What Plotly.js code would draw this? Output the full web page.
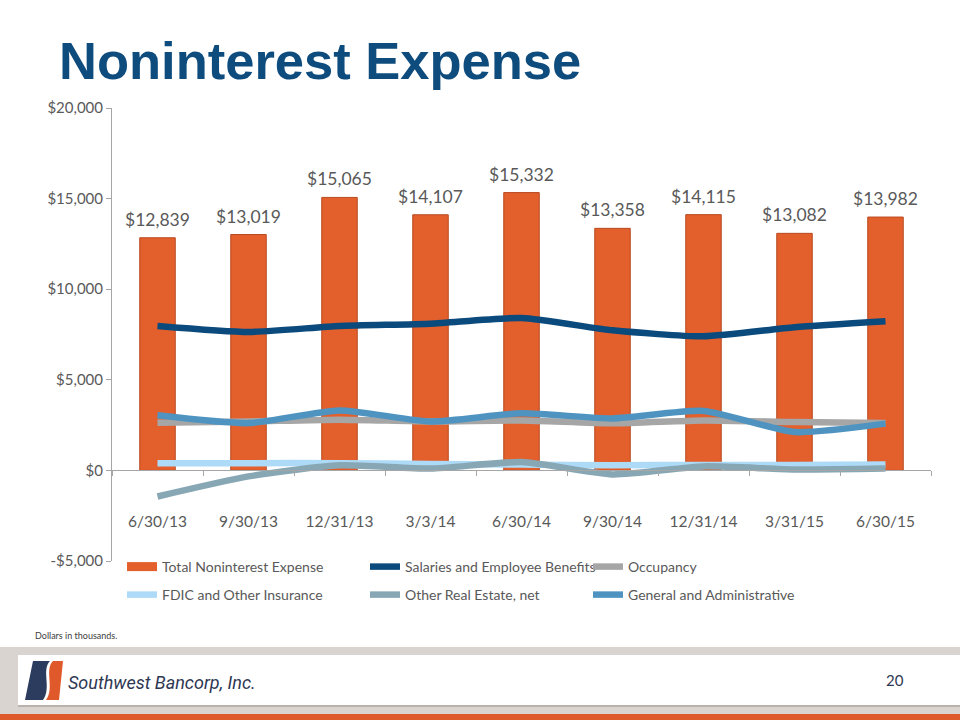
<!DOCTYPE html>
<html>
<head>
<meta charset="utf-8">
<script src="https://cdn.plot.ly/plotly-3.0.1.min.js"></script>
<style>html,body{margin:0;padding:0;background:#fff;}#chart{width:960px;height:720px;}</style>
</head>
<body>
<div id="chart"></div>
<script>
const categories = ["6/30/13","9/30/13","12/31/13","3/3/14","6/30/14","9/30/14","12/31/14","3/31/15","6/30/15"];
const totalExpense = [12839,13019,15065,14107,15332,13358,14115,13082,13982];
const salaries = [7970,7640,7970,8100,8410,7730,7400,7900,8230];
const occupancy = [2630,2700,2800,2700,2760,2600,2760,2670,2610];
const fdic = [400,400,400,350,320,290,300,300,320];
const otherRealEstate = [-1440,-330,280,100,460,-220,220,50,100];
const generalAdmin = [3040,2610,3310,2700,3150,2870,3280,2120,2580];
const yTickVals = [-5000,0,5000,10000,15000,20000];
const yTickText = ["-$5,000","$0","$5,000","$10,000","$15,000","$20,000"];

// pixel -> paper helpers (plot area: x 112..931, y 108..561)
const L=112, R=931, T=108, B=561;
const X = p => (p-L)/(R-L);
const Y = p => (B-p)/(B-T);
function pathPx(cmds){
  return cmds.map(c=>{
    const out=[c[0]];
    for(let i=1;i<c.length;i+=2){out.push(X(c[i]).toFixed(5)+','+Y(c[i+1]).toFixed(5));}
    return out[0]+' '+out.slice(1).join(' ');
  }).join(' ')+' Z';
}
const fmt = v => '$'+v.toLocaleString('en-US');
const gray='#595959';
const txtFont='Lato, "Open Sans", sans-serif';
const barColor='#E35F2C';

const lineTrace=(name,y,color,leg)=>({type:'scatter',mode:'lines',name,x:categories,y,
  line:{color,width:6.5,shape:'spline',smoothing:0.6},legend:leg,hoverinfo:'skip',xaxis:'x',yaxis:'y'});

const traces=[
  {type:'bar',name:'Total Noninterest Expense',x:categories,y:totalExpense,width:0.39,
   marker:{color:barColor,line:{color:'#B9491F',width:1}},showlegend:false,hoverinfo:'skip'},
  // legend key for the bars (wide orange swatch, as in the reference)
  {type:'scatter',mode:'lines',name:'Total Noninterest Expense',x:[null],y:[null],
   line:{color:barColor,width:9},legend:'legend',hoverinfo:'skip'},
  lineTrace('Salaries and Employee Benefits',salaries,'#0B4A7C','legend2'),
  lineTrace('Occupancy',occupancy,'#A6A6A6','legend3'),
  lineTrace('FDIC and Other Insurance',fdic,'#ADDAF6','legend4'),
  lineTrace('Other Real Estate, net',otherRealEstate,'#88A7B4','legend5'),
  lineTrace('General and Administrative',generalAdmin,'#4F94C0','legend6')
];

const legFont={family:txtFont,size:14,color:gray};
const mkLeg=(xp,yp)=>({x:X(xp),y:Y(yp),xanchor:'left',yanchor:'middle',orientation:'h',
  font:legFont,bgcolor:'rgba(0,0,0,0)',itemwidth:30,itemclick:false,itemdoubleclick:false});

const annotations = categories.map((c,i)=>({x:c,y:totalExpense[i],xref:'x',yref:'y',text:fmt(totalExpense[i]),
  showarrow:false,yanchor:'bottom',yshift:6,font:{family:txtFont,size:17.5,color:gray}}));
annotations.push(
  {xref:'paper',yref:'paper',x:X(33),y:Y(635),xanchor:'left',yanchor:'middle',showarrow:false,
   text:'Dollars in thousands.',font:{family:txtFont,size:9,color:'#404040'}},
  {xref:'paper',yref:'paper',x:X(66),y:Y(682),xanchor:'left',yanchor:'middle',showarrow:false,
   text:'<i>Southwest Bancorp, Inc.</i>',font:{family:'Roboto, "Liberation Sans", sans-serif',size:18,color:'#2E3752'}},
  {xref:'paper',yref:'paper',x:X(895),y:Y(680),xanchor:'center',yanchor:'middle',showarrow:false,
   text:'20',font:{family:txtFont,size:15,color:'#2E3752'}}
);

const shapes=[
  {type:'rect',xref:'paper',yref:'paper',x0:X(0),x1:X(960),y0:Y(647),y1:Y(714),fillcolor:'#D9D4D0',line:{width:0},layer:'below'},
  {type:'rect',xref:'paper',yref:'paper',x0:X(18),x1:X(960),y0:Y(655),y1:Y(707),fillcolor:'#B9B2AD',line:{width:0},layer:'below'},
  {type:'rect',xref:'paper',yref:'paper',x0:X(18),x1:X(960),y0:Y(655),y1:Y(705),fillcolor:'#FFFFFF',line:{width:0},layer:'below'},
  {type:'rect',xref:'paper',yref:'paper',x0:X(0),x1:X(960),y0:Y(714),y1:Y(720),fillcolor:'#DE5A2B',line:{width:0},layer:'below'},
  {type:'path',xref:'paper',yref:'paper',layer:'above',fillcolor:'#2C3C5E',line:{width:0},
   path:pathPx([['M',33,661],['L',50,661],['C',41,670,52,688,43,700],['L',25,700]])},
  {type:'path',xref:'paper',yref:'paper',layer:'above',fillcolor:'#E0592A',line:{width:0},
   path:pathPx([['M',53,661],['L',63,661],['L',59,700],['L',46,700],['C',55,688,44,670,53,661]])}
];

const layout={
  width:960,height:720,
  margin:{l:L,r:960-R,t:T,b:720-B},
  paper_bgcolor:'#fff',plot_bgcolor:'rgba(0,0,0,0)',
  title:{text:'<b>Noninterest Expense</b>',x:59/960,xref:'container',xanchor:'left',y:1-61/720,yref:'container',yanchor:'middle',
    font:{family:'"Liberation Sans", Arial, sans-serif',size:52.5,color:'#0E4C7E'}},
  showlegend:true,
  xaxis:{type:'category',anchor:'free',position:0.2,showline:true,linecolor:'#A6A6A6',linewidth:1,
    ticks:'outside',tickson:'boundaries',ticklen:5,tickcolor:'#A6A6A6',showgrid:false,zeroline:false,
    ticklabelstandoff:37,tickfont:{family:txtFont,size:15.5,color:gray},range:[-0.5,8.5],fixedrange:true},
  yaxis:{range:[-5000,20000],tickvals:yTickVals,ticktext:yTickText,showline:true,linecolor:'#A6A6A6',linewidth:1,
    ticks:'outside',ticklen:5,tickcolor:'#A6A6A6',showgrid:false,zeroline:false,
    tickfont:{family:txtFont,size:15,color:gray},fixedrange:true},
  legend:mkLeg(122,567),
  legend2:mkLeg(365,567),
  legend3:mkLeg(588,567),
  legend4:mkLeg(122,595),
  legend5:mkLeg(365,595),
  legend6:mkLeg(588,595),
  annotations,shapes
};

Plotly.newPlot('chart',traces,layout,{displayModeBar:false,staticPlot:true});
</script>
</body>
</html>
